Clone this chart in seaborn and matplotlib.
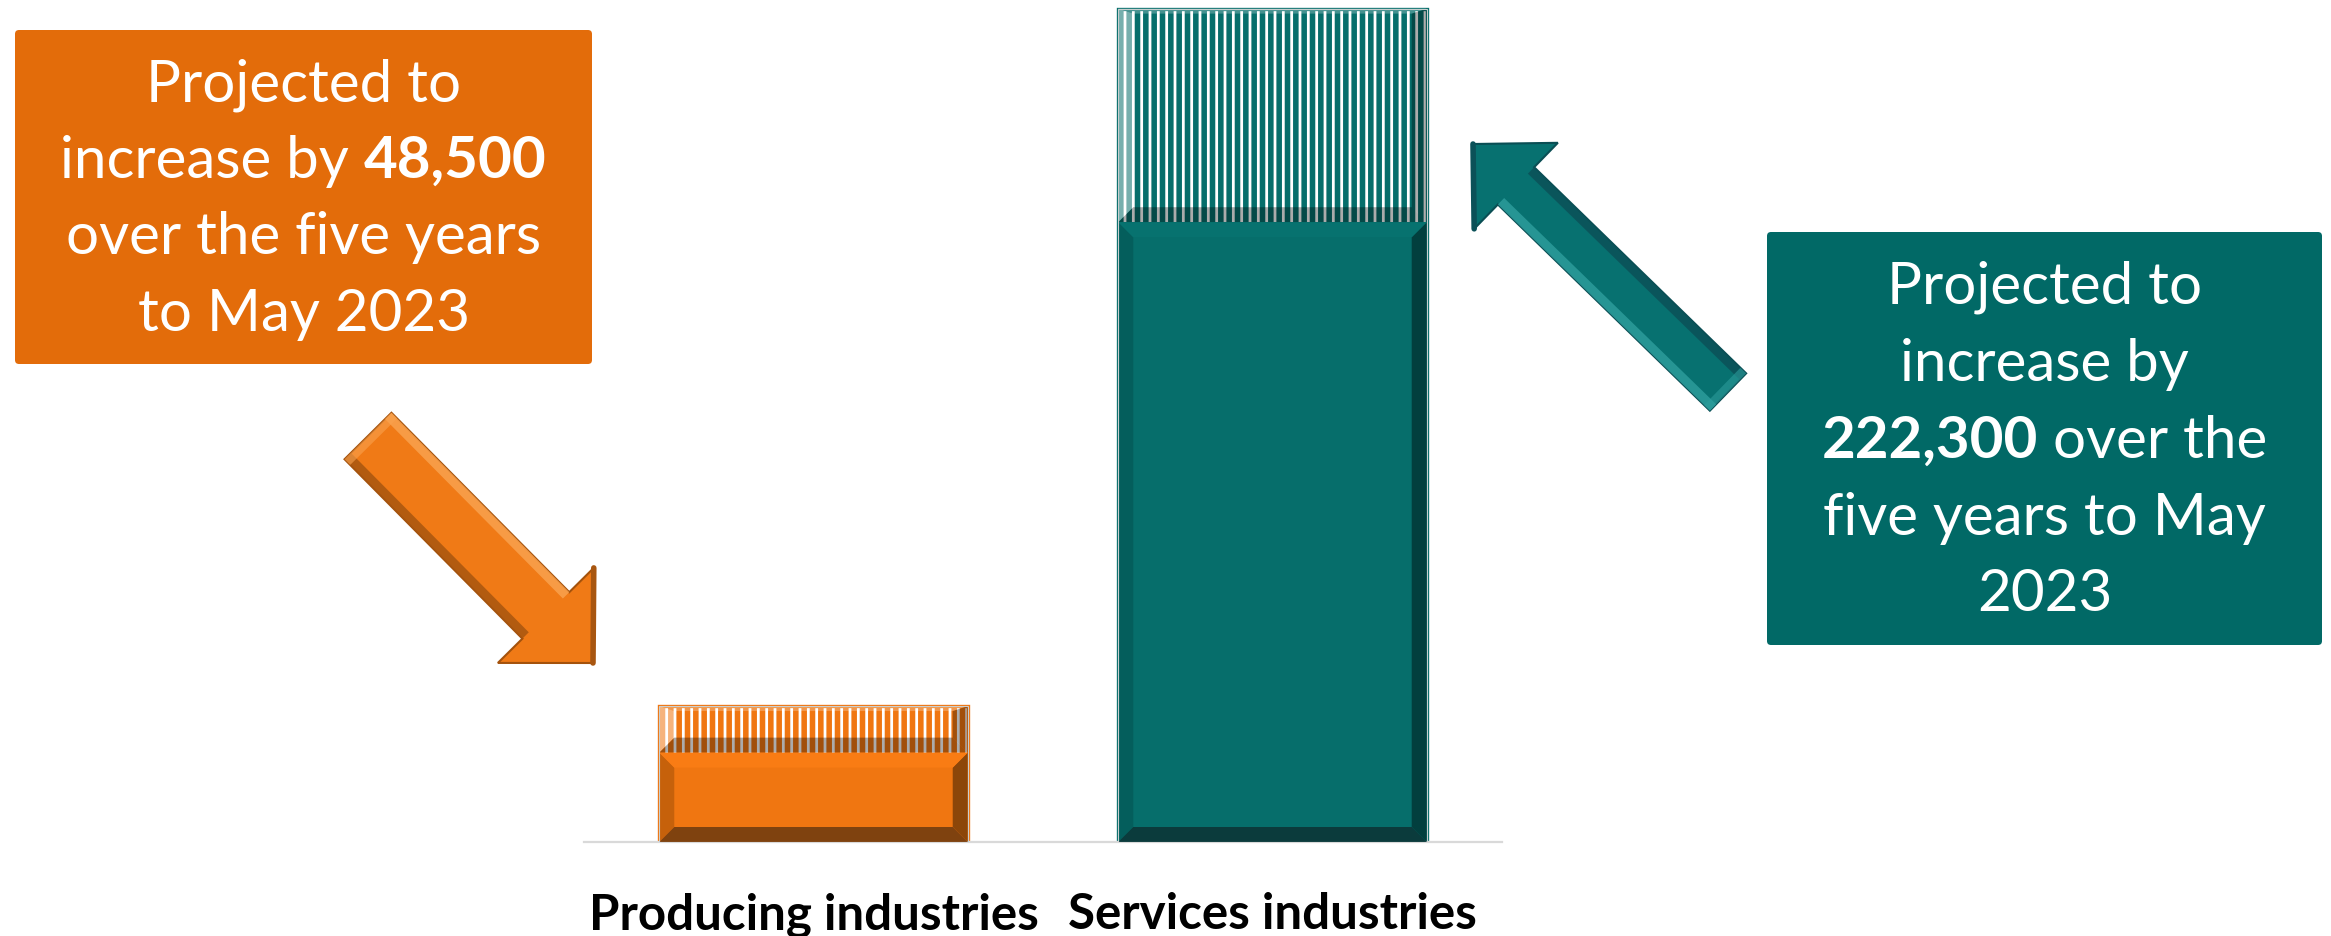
import numpy as np
import pandas as pd
import matplotlib
matplotlib.use("Agg")
import matplotlib.pyplot as plt
from matplotlib.patches import Polygon, FancyBboxPatch
from matplotlib.transforms import Affine2D
import seaborn as sns

# ---- data -------------------------------------------------------------
categories = ["Producing industries", "Services industries"]
employment_2018 = [93000, 645000]          # employment at May 2018
projected_increase = [48500, 222300]       # projected growth to May 2023
increase_labels = ["48,500", "222,300"]

# ---- styling ----------------------------------------------------------
W, H, DPI = 2331, 936, 100
ORANGE = "#F07611"
TEAL = "#066E6B"
bar_colors = [ORANGE, TEAL]
solid_bevel = {
    ORANGE: dict(left="#C6610B", right="#8C4609", bottom="#7F420F", top="#F97C14"),
    TEAL: dict(left="#045E5C", right="#023F3E", bottom="#0B3B3C", top="#07726F"),
}
BOX_ORANGE = "#E36C0A"
BOX_TEAL = "#016966"
FONT = "Lato"

sns.set_theme(style="white")
plt.rcParams["font.family"] = [FONT, "DejaVu Sans"]
plt.rcParams["hatch.linewidth"] = 4.0

fig = plt.figure(figsize=(W / DPI, H / DPI), dpi=DPI)
fig.patch.set_facecolor("white")
px = Affine2D().scale(1.0 / DPI) + fig.dpi_scale_trans   # pixel units, origin bottom-left
renderer = fig.canvas.get_renderer()

ax_left, ax_right, ax_bottom, ax_top = 584, 1502, 842, 6
ax = fig.add_axes([ax_left / W, (H - ax_bottom) / H,
                   (ax_right - ax_left) / W, (ax_bottom - ax_top) / H])

df = pd.DataFrame({"industry": categories,
                   "base": employment_2018,
                   "increase": projected_increase})
df["total"] = df["base"] + df["increase"]

BAR_W = 0.672
# full height (2023) drawn hatched, 2018 level drawn solid on top
sns.barplot(data=df, x="industry", y="total", ax=ax, width=BAR_W,
            errorbar=None, color="white")
sns.barplot(data=df, x="industry", y="base", ax=ax, width=BAR_W,
            errorbar=None, color="white")

YMAX = 870000
ax.set_ylim(0, YMAX)
ax.set_xlim(-0.5, 1.5)
ax.set(xlabel="", ylabel="")
ax.set_yticks([])
sns.despine(ax=ax, left=True, top=True, right=True)
ax.spines["bottom"].set_color("#D9D9D9")
ax.spines["bottom"].set_linewidth(1.6)
ax.patch.set_alpha(0)

total_bars = list(ax.containers[0])
base_bars = list(ax.containers[1])

for bar, c in zip(total_bars, bar_colors):
    bar.set_facecolor("white")
    bar.set_edgecolor(c)
    bar.set_hatch("||")
    bar.set_linewidth(2.4)

for bar, c in zip(base_bars, bar_colors):
    bar.set_facecolor(c)
    bar.set_edgecolor(c)
    bar.set_linewidth(0)

# pixel -> data conversions for bevel widths
dx_px = (1.5 - (-0.5)) / (ax_right - ax_left)
dy_px = YMAX / (ax_bottom - ax_top)


def bevel(x0, x1, y0, y1, b, colors, alphas, top_b=None):
    bx, by = b * dx_px, b * dy_px
    tby = (top_b if top_b is not None else b) * dy_px
    shapes = {
        "left": [(x0, y0), (x0 + bx, y0 + by), (x0 + bx, y1 - tby), (x0, y1)],
        "right": [(x1, y0), (x1 - bx, y0 + by), (x1 - bx, y1 - tby), (x1, y1)],
        "bottom": [(x0, y0), (x1, y0), (x1 - bx, y0 + by), (x0 + bx, y0 + by)],
        "top": [(x0, y1), (x1, y1), (x1 - bx, y1 - tby), (x0 + bx, y1 - tby)],
    }
    for side, pts in shapes.items():
        if side in colors:
            ax.add_patch(Polygon(pts, closed=True, facecolor=colors[side],
                                 alpha=alphas.get(side, 1.0), lw=0, zorder=3))


for tb, bb, c in zip(total_bars, base_bars, bar_colors):
    x0, x1 = tb.get_x(), tb.get_x() + tb.get_width()
    base_h, tot_h = bb.get_height(), tb.get_height()
    # shading on the hatched (growth) segment
    bevel(x0, x1, base_h, tot_h, 15,
          dict(left="white", right="black", bottom="black", top="white"),
          dict(left=0.45, right=0.32, bottom=0.33, top=0.25), top_b=5)
    # bevelled solid segment
    bevel(x0, x1, 0, base_h, 15, solid_bevel[c], {})
    ax.add_patch(plt.Rectangle((x0, 0), x1 - x0, tot_h, fill=False,
                               edgecolor="#C9CFCF", lw=0.8, zorder=4))


# ---- text fitting helpers ---------------------------------------------
def width_px(s, size, weight="normal"):
    t = fig.text(0, 0, s, fontsize=size, fontweight=weight, family=FONT)
    w = t.get_window_extent(renderer).width
    t.remove()
    return w


def fit_size(s, target, weight="normal"):
    return 40 * target / width_px(s, 40, weight)


def text_line(cx, baseline, pieces, size, color="white"):
    space = width_px("n n", size) - width_px("nn", size)
    arts, widths = [], []
    for s, wt in pieces:
        t = fig.text(0, 0, s, fontsize=size, fontweight=wt, color=color,
                     family=FONT, transform=px, ha="left", va="baseline",
                     zorder=10)
        arts.append(t)
        widths.append(t.get_window_extent(renderer).width)
    total = sum(widths) + space * (len(pieces) - 1)
    x = cx - total / 2
    for t, w in zip(arts, widths):
        t.set_position((x, H - baseline))
        x += w + space


# ---- category labels ----------------------------------------------------
label_size = fit_size(categories[0], 450, "bold")
ax.set_xticks([0, 1])
ax.set_xticklabels(categories, fontsize=label_size, fontweight="bold",
                   color="black", family=FONT)
ax.tick_params(axis="x", length=0, pad=label_size * 0.62 + 14)

# ---- call-out boxes -----------------------------------------------------
def callout(x0, y0, x1, y1, color):
    box = FancyBboxPatch((x0, H - y1), x1 - x0, y1 - y0,
                         boxstyle="round,pad=0,rounding_size=4",
                         transform=px, facecolor=color, edgecolor="none",
                         zorder=5)
    fig.add_artist(box)


box_size = fit_size("over the five years", 475)

callout(15, 30, 592, 364, BOX_ORANGE)
orange_lines = [
    [("Projected to", "normal")],
    [("increase by", "normal"), (increase_labels[0], "bold")],
    [("over the five years", "normal")],
    [("to May 2023", "normal")],
]
for line, base in zip(orange_lines, [101, 178, 254, 331]):
    text_line(303.5, base, line, box_size)

callout(1767, 232, 2322, 645, BOX_TEAL)
teal_lines = [
    [("Projected to", "normal")],
    [("increase by", "normal")],
    [(increase_labels[1], "bold"), ("over the", "normal")],
    [("five years to May", "normal")],
    [("2023", "normal")],
]
for line, base in zip(teal_lines, [304, 381, 458, 535, 611]):
    text_line(2044.5, base, line, box_size)


# ---- bevelled block arrows ---------------------------------------------
def block_arrow(tail, tip, w, hw, hl, fill, edge, light_side, light, dark):
    T, P = np.array(tail, float), np.array(tip, float)
    d = (P - T) / np.linalg.norm(P - T)
    n = np.array([-d[1], d[0]])
    B = P - d * hl
    pts = [T + n * w / 2, B + n * w / 2, B + n * hw / 2, P,
           B - n * hw / 2, B - n * w / 2, T - n * w / 2]
    conv = lambda p: (p[0], H - p[1])
    fig.add_artist(Polygon([conv(p) for p in pts], closed=True, transform=px,
                           facecolor=fill, edgecolor=edge, lw=1.5, zorder=6))
    sw = 9
    for side, col in ((light_side, light), (-light_side, dark)):
        strip = [T + side * n * w / 2, B + side * n * w / 2,
                 B + side * n * (w / 2 - sw), T + side * n * (w / 2 - sw)]
        fig.add_artist(Polygon([conv(p) for p in strip], closed=True,
                               transform=px, facecolor=col, lw=0,
                               alpha=0.85, zorder=7))
    # end cap shading at the tail
    cap = [T + n * w / 2, T - n * w / 2, T - n * w / 2 + d * 8, T + n * w / 2 + d * 8]
    fig.add_artist(Polygon([conv(p) for p in cap], closed=True, transform=px,
                           facecolor=light, lw=0, alpha=0.6, zorder=7))
    # outer edge of the head
    head_edge = [B + light_side * n * hw / 2, P]
    fig.add_artist(plt.Line2D([head_edge[0][0], head_edge[1][0]],
                              [H - head_edge[0][1], H - head_edge[1][1]],
                              transform=px, color=dark, lw=4, zorder=7))


block_arrow((368, 436), (593, 663), 66, 135, 67,
            fill="#F07A16", edge="#A4520C", light_side=-1,
            light="#F9A24E", dark="#A85610")
block_arrow((1728, 392), (1473, 144), 52, 120, 60,
            fill="#077170", edge="#0A4E54", light_side=-1,
            light="#2C9C9B", dark="#0B5158")

fig.savefig("out.png", dpi=DPI, facecolor="white")
